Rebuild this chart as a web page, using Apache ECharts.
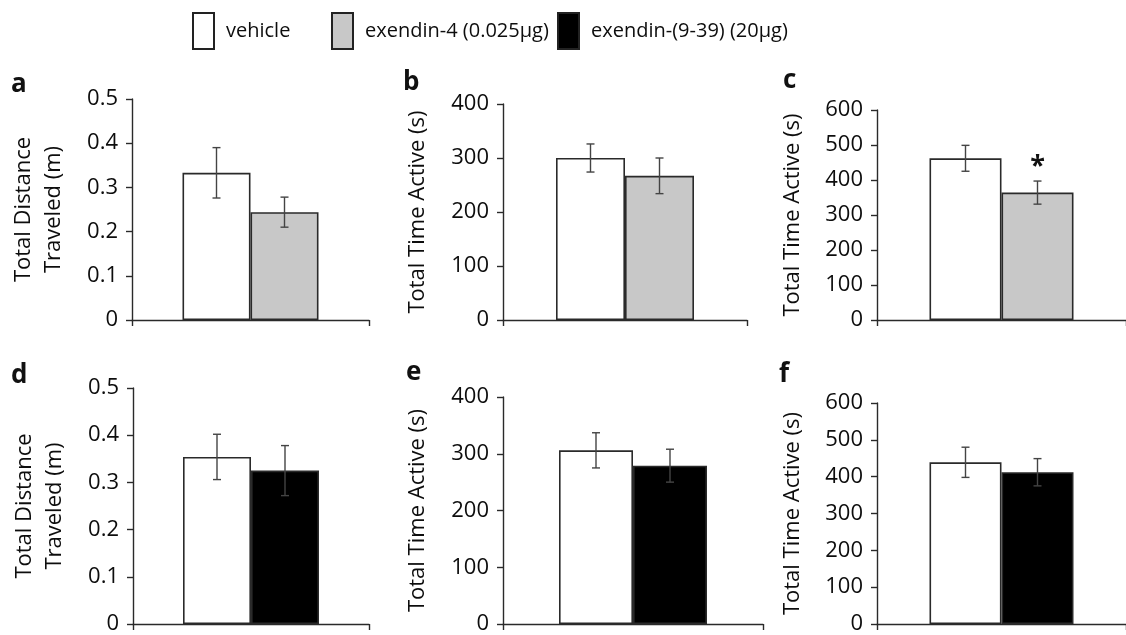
<!DOCTYPE html>
<html>
<head>
<meta charset="utf-8">
<script src="https://cdn.jsdelivr.net/npm/echarts@6/dist/echarts.min.js"></script>
<style>
  html, body { margin: 0; padding: 0; background: #fff; }
  #chart { width: 1126px; height: 635px; }
</style>
</head>
<body>
<div id="chart"></div>
<script>
// data
const panelLetters = ["a", "b", "c", "d", "e", "f"];
const yTitles = [
  "Total Distance\nTraveled (m)",
  "Total Time Active (s)",
  "Total Time Active (s)",
  "Total Distance\nTraveled (m)",
  "Total Time Active (s)",
  "Total Time Active (s)",
];
const yMax = [0.5, 400, 600, 0.5, 400, 600];
const yStep = [0.1, 100, 100, 0.1, 100, 100];
const vehicleMean = [0.333, 300, 462, 0.354, 306, 439];
const vehicleSem = [0.057, 26, 37, 0.048, 31, 41];
const drugMean = [0.244, 267, 364, 0.325, 279, 412];
const drugSem = [0.034, 33, 33, 0.053, 29, 37];
const significance = ["", "", "*", "", "", ""];
const groupNames = ["vehicle", "exendin-4 (0.025μg)", "exendin-(9-39) (20μg)"];
const drugGroup = [1, 1, 1, 2, 2, 2];

// layout
const FONT = "'Open Sans', sans-serif";
const groupColors = ["#ffffff", "#c8c8c8", "#000000"];
const grids = [
  { left: 132, top: 99, width: 237, height: 221 },
  { left: 503, top: 104, width: 244, height: 216 },
  { left: 877, top: 110, width: 256, height: 210 },
  { left: 133, top: 388, width: 236, height: 238 },
  { left: 503, top: 397, width: 260, height: 229 },
  { left: 877, top: 403, width: 250, height: 223 },
];
const barWidths = [68, 69, 72, 68, 74, 72];
const nameGaps = [63, 70, 69, 63, 70, 69];
const letterPos = [
  [11, 72], [403, 70], [783, 68],
  [11, 363], [406, 360], [779, 362],
];
const legendLeft = [192, 331, 557];

const chart = echarts.init(document.getElementById("chart"));

const xAxes = [];
const yAxes = [];
const series = [];

grids.forEach((g, i) => {
  xAxes.push({
    type: "category",
    gridIndex: i,
    data: [""],
    axisLine: { lineStyle: { color: "#2a2a2a", width: 1.4 } },
    axisTick: { show: true, length: 6, lineStyle: { color: "#2a2a2a", width: 1.4 } },
    axisLabel: { show: false },
  });
  yAxes.push({
    type: "value",
    gridIndex: i,
    min: 0,
    max: yMax[i],
    interval: yStep[i],
    splitLine: { show: false },
    axisLine: { show: true, lineStyle: { color: "#2a2a2a", width: 1.4 } },
    axisTick: { show: true, length: 6, lineStyle: { color: "#2a2a2a", width: 1.4 } },
    axisLabel: { color: "#0d0d0d", fontSize: 22, fontFamily: FONT, margin: 14 },
    name: yTitles[i],
    nameLocation: "middle",
    nameRotate: 90,
    nameGap: nameGaps[i],
    nameTextStyle: { color: "#0d0d0d", fontSize: 22, fontFamily: FONT, lineHeight: 30 },
  });

  const bw = barWidths[i];
  series.push({
    name: groupNames[0],
    type: "bar",
    xAxisIndex: i,
    yAxisIndex: i,
    data: [vehicleMean[i]],
    barWidth: bw,
    barGap: "0%",
    itemStyle: { color: groupColors[0], borderColor: "#2a2a2a", borderWidth: 1.6 },
  });
  series.push({
    name: groupNames[drugGroup[i]],
    type: "bar",
    xAxisIndex: i,
    yAxisIndex: i,
    data: [drugMean[i]],
    barWidth: bw,
    barGap: "0%",
    itemStyle: { color: groupColors[drugGroup[i]], borderColor: "#2a2a2a", borderWidth: 1.6 },
  });
  series.push({
    type: "custom",
    xAxisIndex: i,
    yAxisIndex: i,
    z: 5,
    data: [
      [0, vehicleMean[i] - vehicleSem[i], vehicleMean[i] + vehicleSem[i], ""],
      [0, drugMean[i] - drugSem[i], drugMean[i] + drugSem[i], significance[i]],
    ],
    renderItem: (params, api) => {
      const side = params.dataIndex === 0 ? -1 : 1;
      const lo = api.coord([api.value(0), api.value(1)]);
      const hi = api.coord([api.value(0), api.value(2)]);
      const x = lo[0] + side * bw / 2;
      const cap = 4;
      const style = { stroke: "#444", lineWidth: 1.4 };
      const children = [
        { type: "line", shape: { x1: x, y1: lo[1], x2: x, y2: hi[1] }, style },
        { type: "line", shape: { x1: x - cap, y1: lo[1], x2: x + cap, y2: lo[1] }, style },
        { type: "line", shape: { x1: x - cap, y1: hi[1], x2: x + cap, y2: hi[1] }, style },
      ];
      const mark = api.value(3);
      if (mark) {
        children.push({
          type: "text",
          style: {
            text: mark, x: x, y: hi[1] - 15,
            fill: "#111", font: "bold 27px " + FONT,
            align: "center", verticalAlign: "middle",
          },
        });
      }
      return { type: "group", children };
    },
  });
});

const legends = groupNames.map((name, k) => ({
  left: legendLeft[k],
  top: 12,
  padding: 0,
  itemWidth: 21,
  itemHeight: 36,
  icon: "rect",
  selectedMode: false,
  data: [{
    name,
    itemStyle: { color: groupColors[k], borderColor: "#222", borderWidth: 2 },
  }],
  textStyle: { fontSize: 20, fontFamily: FONT, color: "#0d0d0d", padding: [0, 0, 0, 7] },
}));

chart.setOption({
  animation: false,
  backgroundColor: "#fff",
  title: panelLetters.map((t, i) => ({
    text: t,
    left: letterPos[i][0],
    top: letterPos[i][1],
    padding: 0,
    textStyle: { fontSize: 26, fontWeight: "bold", fontFamily: FONT, color: "#111" },
  })),
  legend: legends,
  grid: grids,
  xAxis: xAxes,
  yAxis: yAxes,
  series,
});
</script>
</body>
</html>
